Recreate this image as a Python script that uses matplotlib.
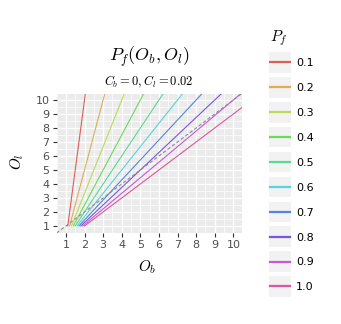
import matplotlib
matplotlib.use("Agg")
import matplotlib.pyplot as plt
import seaborn as sns
from matplotlib.legend_handler import HandlerLine2D
from matplotlib.lines import Line2D
from matplotlib.patches import Rectangle

plt.rcParams['mathtext.fontset'] = 'cm'

# P_f levels and where each contour crosses O_l = 1 and O_l = 11
p_levels = [0.1, 0.2, 0.3, 0.4, 0.5, 0.6, 0.7, 0.8, 0.9, 1.0]
p_labels = ["0.1", "0.2", "0.3", "0.4", "0.5", "0.6", "0.7", "0.8", "0.9", "1.0"]
ob_start = [1.1, 1.2, 1.3, 1.4, 1.5, 1.6, 1.7, 1.8, 1.9, 2.0]
ol_start = [1, 1, 1, 1, 1, 1, 1, 1, 1, 1]
ob_end = [2.1, 3.2, 4.3, 5.4, 6.5, 7.6, 8.7, 9.8, 10.9, 12.0]
ol_end = [11, 11, 11, 11, 11, 11, 11, 11, 11, 11]
ticks = [1, 2, 3, 4, 5, 6, 7, 8, 9, 10]

colors = sns.hls_palette(len(p_levels), h=0.01, l=0.6, s=0.65)


class KeyHandler(HandlerLine2D):
    # legend key with grey background box, like ggplot (units are points)
    def create_artists(self, legend, orig_handle, xdescent, ydescent,
                       width, height, fontsize, trans):
        bg = Rectangle((-xdescent, -ydescent - 3.8), width, height + 7.6,
                       facecolor="#F2F2F2", edgecolor="none", transform=trans)
        y = height / 2 - ydescent
        ln = Line2D([-xdescent + 1, width - xdescent - 1], [y, y],
                    color=orig_handle.get_color(), lw=1.6, transform=trans)
        return [bg, ln]


fig = plt.figure(figsize=(3.41, 3.24), dpi=100)
ax = fig.add_axes([0.166, 0.281, 0.543, 0.430])
ax.set_facecolor("#EBEBEB")
for s in ax.spines.values():
    s.set_visible(False)

handles = []
for i, p in enumerate(p_levels):
    h, = ax.plot([ob_start[i], ob_end[i]], [ol_start[i], ol_end[i]],
                 color=colors[i], lw=0.8, zorder=3)
    handles.append(h)

ax.axline((1, 1), (10, 10), color="#8C8C8C", lw=0.8, ls=(0, (3, 2)), zorder=4)

ax.set_xlim(0.55, 10.45)
ax.set_ylim(0.55, 10.45)
ax.set_xticks(ticks)
ax.set_yticks(ticks)
ax.set_xticks([t + 0.5 for t in ticks[:-1]] + [0.5], minor=True)
ax.set_yticks([t + 0.5 for t in ticks[:-1]] + [0.5], minor=True)
ax.grid(which="major", color="white", lw=1.0)
ax.grid(which="minor", color="white", lw=0.5)
ax.set_axisbelow(True)
ax.tick_params(which="major", length=3, width=0.8, color="#333333",
               labelcolor="#4D4D4D", labelsize=8, pad=2)
ax.tick_params(which="minor", length=0)

fig.text(0.437, 0.824, r"$P_f(O_b, O_l)$", ha="center", va="center", fontsize=13)
fig.text(0.437, 0.747, r"$C_b = 0, C_l = 0.02$", ha="center", va="center", fontsize=9)
fig.text(0.43, 0.176, r"$O_b$", ha="center", va="center", fontsize=11)
fig.text(0.05, 0.5, r"$O_l$", ha="center", va="center", fontsize=11, rotation=90)

fig.text(0.792, 0.883, r"$P_f$", ha="left", va="center", fontsize=11)
leg = fig.legend(handles, p_labels, loc="upper left",
                 bbox_to_anchor=(0.789, 0.8225), frameon=False, fontsize=8,
                 handlelength=2.0, handleheight=1.0, borderaxespad=0,
                 labelspacing=1.27, handletextpad=0.45, borderpad=0,
                 handler_map={Line2D: KeyHandler()})

fig.savefig("out.png", dpi=100)
